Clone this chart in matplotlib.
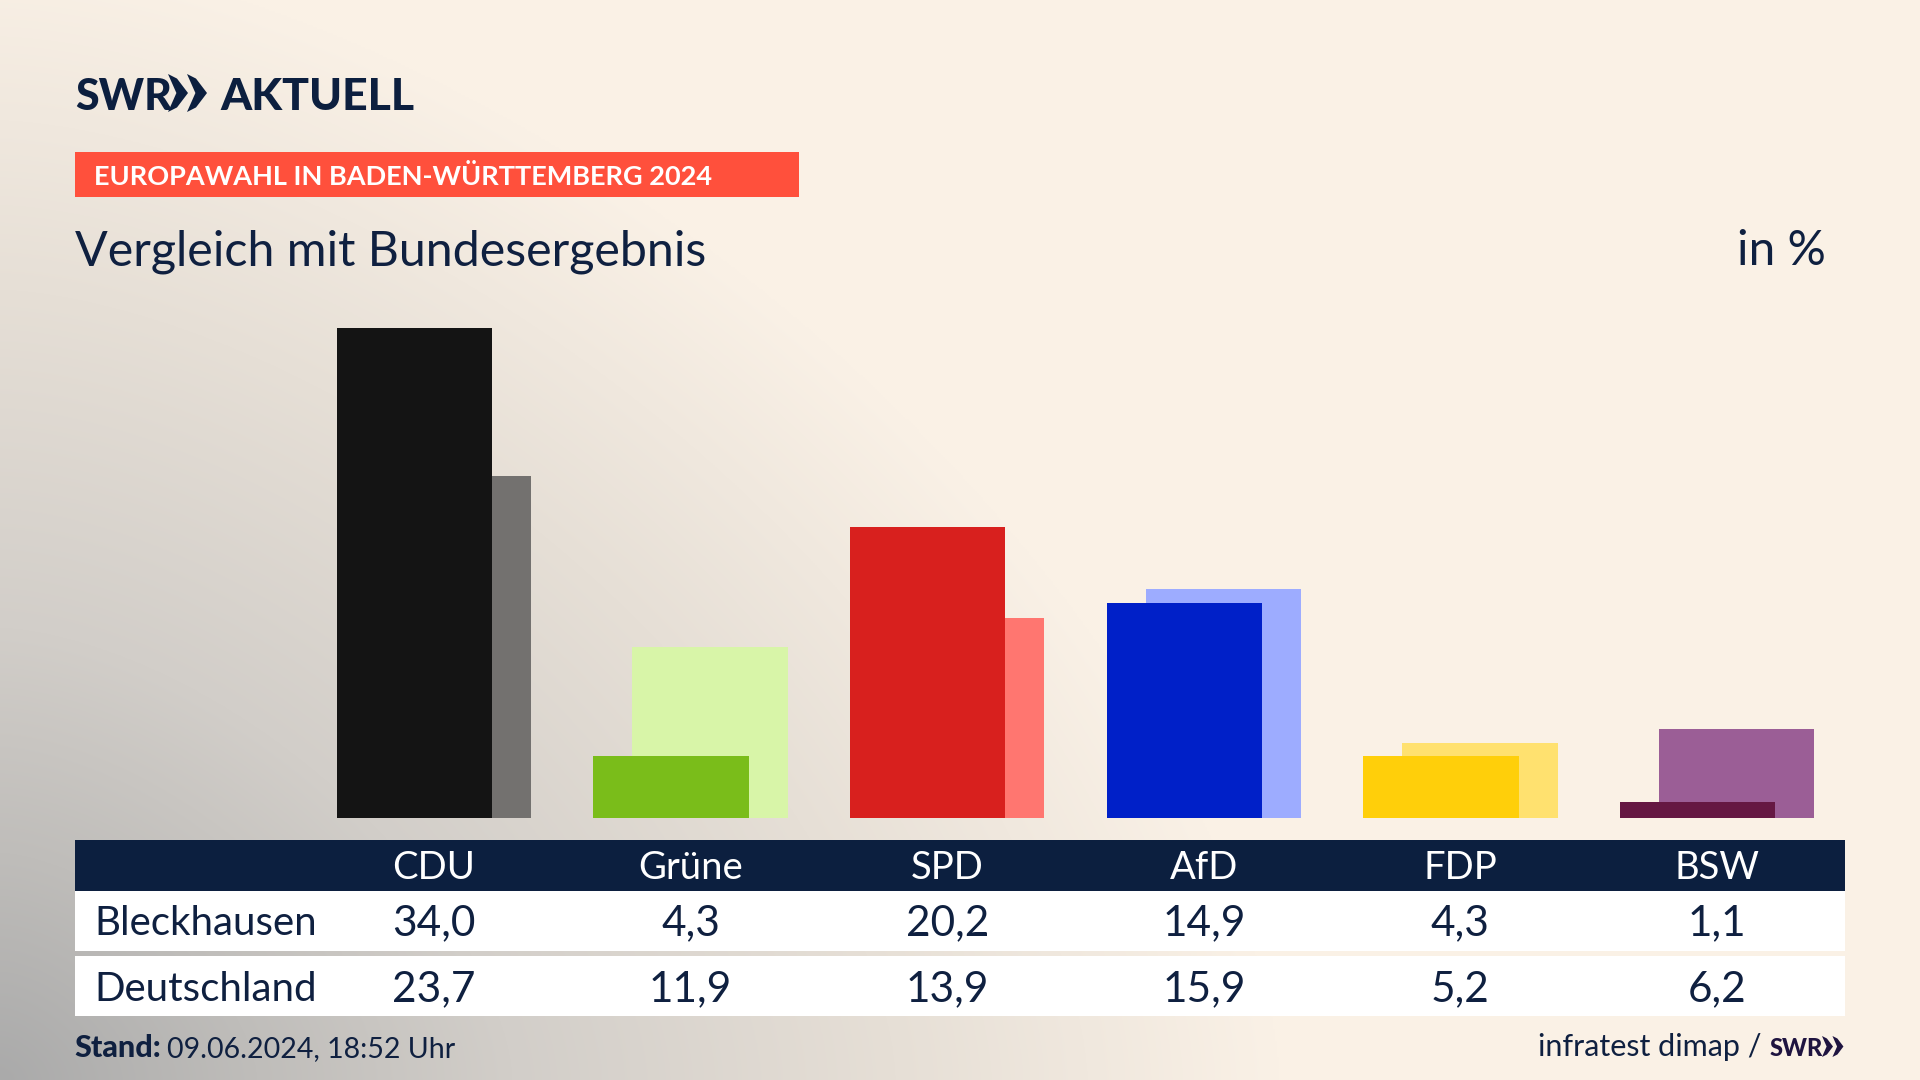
import numpy as np
import matplotlib
matplotlib.use("Agg")
import matplotlib.pyplot as plt
from matplotlib.colors import LinearSegmentedColormap
from matplotlib.patches import Polygon, Rectangle

plt.rcParams['font.family'] = ['Lato', 'DejaVu Sans']

# Данные
parties = ["CDU", "Grüne", "SPD", "AfD", "FDP", "BSW"]
bleckhausen = [34.0, 4.3, 20.2, 14.9, 4.3, 1.1]
deutschland = [23.7, 11.9, 13.9, 15.9, 5.2, 6.2]
front_colors = ["#141414", "#7abd1a", "#d8201e", "#0020c8", "#ffcf0a", "#651843"]
back_colors = ["#73716f", "#d8f5a8", "#ff7670", "#9dacff", "#ffe16f", "#9b5e96"]
row_names = ["Bleckhausen", "Deutschland"]

NAVY = "#0c1f3f"
TEXT = "#0f2040"

fig = plt.figure(figsize=(19.2, 10.8), dpi=100)

# Фон и таблица в пикселях
bg = fig.add_axes([0, 0, 1, 1])
bg.axis("off")

xx, yy = np.meshgrid(np.linspace(0, 1920, 960), np.linspace(0, 1080, 540))
dist = ((xx / 1280) ** 1.6 + ((1080 - yy) / 1130) ** 1.6) ** (1 / 1.6)
cmap = LinearSegmentedColormap.from_list(
    "bg", [(0, "#aaaaaa"), (0.2, "#bfbdba"), (0.4, "#d2cec9"), (0.7, "#e6dfd6"), (1, "#faf1e6")], N=1024)
bg.imshow(np.clip(dist, 0, 1), cmap=cmap, vmin=0, vmax=1, aspect="auto",
          extent=[0, 1920, 1080, 0], interpolation="bilinear")
bg.set_xlim(0, 1920)
bg.set_ylim(1080, 0)


def chevrons(x, top, bottom, w, color):
    # Логотип: две стрелки
    mid = (top + bottom) / 2
    h = bottom - top
    for k in range(2):
        x0 = x + k * w * 0.95
        bg.add_patch(Polygon([(x0, top), (x0 + w * 0.45, top + h * 0.12), (x0 + w, mid),
                              (x0 + w * 0.45, bottom - h * 0.12), (x0, bottom),
                              (x0 + w * 0.42, mid)], closed=True, color=color, lw=0))


# Шапка
bg.text(75, 110, "SWR", fontsize=31, fontweight="black", color=NAVY, va="baseline")
chevrons(168, 74, 112, 20, NAVY)
bg.text(220, 110, "AKTUELL", fontsize=32, fontweight="black", color=NAVY, va="baseline")
bg.add_patch(Rectangle((75, 152), 724, 45, color="#ff503c", lw=0))
bg.text(94, 185, "EUROPAWAHL IN BADEN-WÜRTTEMBERG 2024", fontsize=19.5, fontweight="bold",
        color="white", va="baseline")
bg.text(75, 265, "Vergleich mit Bundesergebnis", fontsize=34.8, color=TEXT, va="baseline")
bg.text(1826, 265, "in %", fontsize=34.5, color=TEXT, va="baseline", ha="right")

# Столбцы
PX_PER_UNIT = 14.41
ZERO_Y = 818
CENTER0 = 434
STEP = 256.6
ax = fig.add_axes([0, 1 - ZERO_Y / 1080, 1, ZERO_Y / 1080])
ax.patch.set_alpha(0)
ax.axis("off")
ax.set_xlim(-CENTER0 / STEP, (1920 - CENTER0) / STEP)
ax.set_ylim(0, ZERO_Y / PX_PER_UNIT)
x = np.arange(len(parties))
ax.bar(x + 0.076, deutschland, width=0.605, color=back_colors, lw=0)
ax.bar(x - 0.076, bleckhausen, width=0.605, color=front_colors, lw=0)

# Таблица
bg.add_patch(Rectangle((75, 840), 1770, 51, color=NAVY, lw=0))
bg.add_patch(Rectangle((75, 891), 1770, 60, color="white", lw=0))
bg.add_patch(Rectangle((75, 956), 1770, 60, color="white", lw=0))
for i, p in enumerate(parties):
    cx = CENTER0 + i * STEP
    bg.text(cx, 879, p, fontsize=27.5, color="white", ha="center", va="baseline")
    bg.text(cx, 935, f"{bleckhausen[i]:.1f}".replace(".", ","), fontsize=30.5, color=TEXT,
            ha="center", va="baseline")
    bg.text(cx, 1001, f"{deutschland[i]:.1f}".replace(".", ","), fontsize=30.5, color=TEXT,
            ha="center", va="baseline")
bg.text(94, 935, row_names[0], fontsize=29, color=TEXT, va="baseline")
bg.text(94, 1001, row_names[1], fontsize=29, color=TEXT, va="baseline")

# Подвал
bg.text(74, 1057, "Stand:", fontsize=22, fontweight="black", color=TEXT, va="baseline")
bg.text(167, 1057, "09.06.2024, 18:52 Uhr", fontsize=20.5, color=TEXT, va="baseline")
bg.text(1762, 1056, "infratest dimap /", fontsize=22, color=TEXT, va="baseline", ha="right")
bg.text(1770, 1056, "SWR", fontsize=17, fontweight="black", color="#1f1440", va="baseline")
chevrons(1822, 1036, 1057, 11, "#1f1440")

fig.savefig("out.png", dpi=100)
